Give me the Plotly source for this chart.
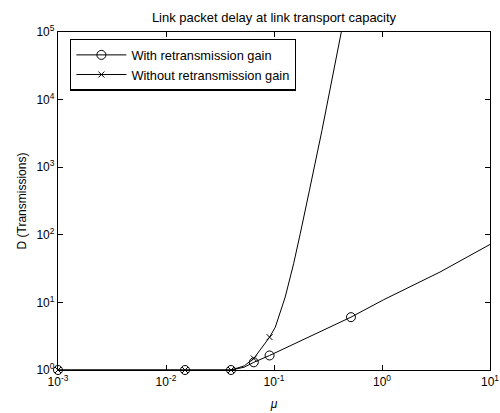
import plotly.graph_objects as go

# ---- data ----
mu_with = [0.001, 0.015, 0.04, 0.053, 0.065, 0.091, 0.516, 1.03, 3.44, 10]
d_with = [1.0, 1.0, 1.0, 1.1, 1.3, 1.64, 6.05, 10.9, 28.1, 72]
marked_with = [0, 1, 2, 4, 5, 6]

mu_without = [0.001, 0.015, 0.04, 0.053, 0.065, 0.091, 0.1028, 0.127, 0.152,
              0.175, 0.202, 0.213, 0.278, 0.343, 0.42]
d_without = [1.0, 1.0, 1.0, 1.15, 1.48, 3.06, 4.3, 12.0, 37.4,
             104, 290, 456, 3500, 19500, 100000]
marked_without = [0, 1, 2, 4, 5]

x_tickvals = [0.001, 0.01, 0.1, 1, 10]
x_ticktext = ["10<sup>-3</sup>", "10<sup>-2</sup>", "10<sup>-1</sup>", "10<sup>0</sup>", "10<sup>1</sup>"]
y_tickvals = [1, 10, 100, 1000, 10000, 100000]
y_ticktext = ["10<sup>0</sup>", "10<sup>1</sup>", "10<sup>2</sup>", "10<sup>3</sup>", "10<sup>4</sup>", "10<sup>5</sup>"]

name_with = "With retransmission gain"
name_without = "Without retransmission gain"
title_text = "Link packet delay at link transport capacity"
FONT = "Liberation Sans, Arial, sans-serif"

fig = go.Figure()

series = [
    (name_with, mu_with, d_with, marked_with, dict(symbol="circle-open", size=9, color="black", line=dict(width=1, color="black"))),
    (name_without, mu_without, d_without, marked_without, dict(symbol="x-thin-open", size=6, color="black", line=dict(width=1, color="black"))),
]

for name, xs, ys, marked, mk in series:
    fig.add_trace(go.Scatter(x=xs, y=ys, mode="lines", line=dict(color="black", width=1),
                             showlegend=False, hoverinfo="skip"))
    fig.add_trace(go.Scatter(x=[xs[i] for i in marked], y=[ys[i] for i in marked], mode="markers",
                             marker=mk, showlegend=False, cliponaxis=False))

for name, xs, ys, marked, mk in series:
    fig.add_trace(go.Scatter(x=[None], y=[None], mode="lines+markers", name=name,
                             line=dict(color="black", width=1), marker=mk))

axis_common = dict(
    type="log", showgrid=False, zeroline=False, showline=True, linecolor="black", linewidth=1.3,
    mirror="ticks", ticks="inside", ticklen=5, tickcolor="black", tickwidth=1,
    tickfont=dict(family=FONT, size=12, color="black"), automargin=False,
)

fig.update_layout(
    width=500, height=413,
    margin=dict(l=58, r=10, t=32, b=43),
    paper_bgcolor="white", plot_bgcolor="white",
    font=dict(family=FONT, size=12, color="black"),
    title=dict(text=title_text, x=0.5, xref="paper", xanchor="center", y=1 - 17 / 413, yanchor="middle",
               yref="container", font=dict(family=FONT, size=13, color="black")),
    xaxis=dict(range=[-3, 1], tickvals=x_tickvals, ticktext=x_ticktext,
               title=dict(text="<i>μ</i>", font=dict(family=FONT, size=12), standoff=12), **axis_common),
    yaxis=dict(range=[0, 5], tickvals=y_tickvals, ticktext=y_ticktext,
               title=dict(text="D (Transmissions)", font=dict(family=FONT, size=12), standoff=7), **axis_common),
    legend=dict(x=0.028, y=0.98, xanchor="left", yanchor="top", bgcolor="white",
                bordercolor="black", borderwidth=1.3, font=dict(family=FONT, size=12.8, color="black"),
                tracegroupgap=0, itemwidth=50),
)

fig.write_html("out.html", post_script="document.body.style.margin='0';",
               config={"displayModeBar": False})
